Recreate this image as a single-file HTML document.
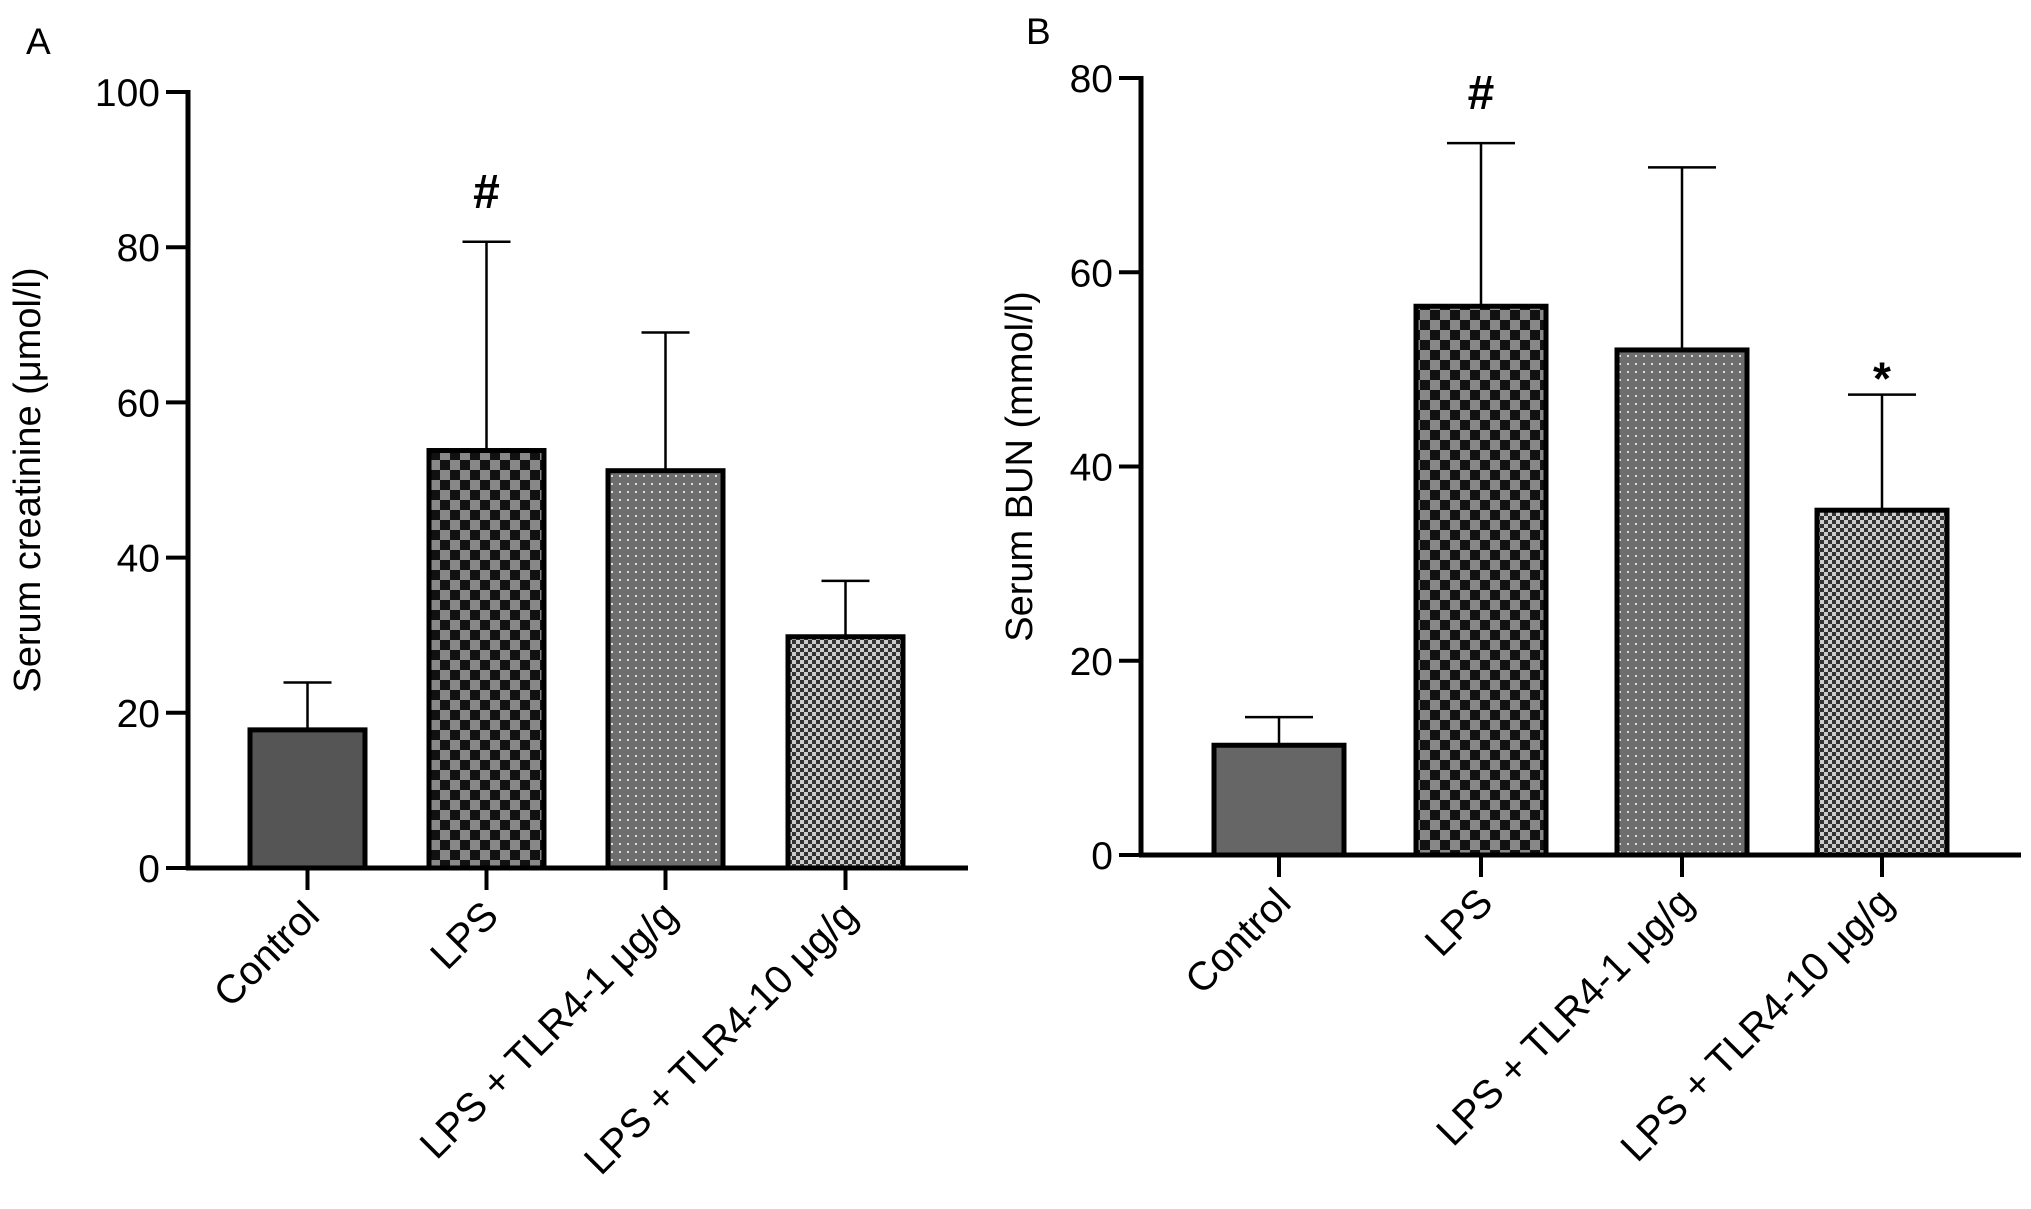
<!DOCTYPE html>
<html><head><meta charset="utf-8"><style>
html,body{margin:0;padding:0;background:#fff;}
svg{display:block;font-family:"Liberation Sans",Arial,sans-serif;}
</style></head><body>
<svg id="fig" width="2031" height="1209" viewBox="0 0 2031 1209">
<defs>
<pattern id="pCheck" width="20" height="20" patternUnits="userSpaceOnUse">
<rect width="20" height="20" fill="#888"/><rect width="10" height="10" fill="#111"/><rect x="10" y="10" width="10" height="10" fill="#111"/>
</pattern>
<pattern id="pDots" width="8" height="8" patternUnits="userSpaceOnUse">
<rect width="8" height="8" fill="#6e6e6e"/><rect x="3" y="3" width="2" height="2" fill="#ddd"/>
</pattern>
<pattern id="pFine" width="8" height="8" patternUnits="userSpaceOnUse">
<rect width="8" height="8" fill="#ccc"/><rect width="4" height="4" fill="#333"/><rect x="4" y="4" width="4" height="4" fill="#333"/>
</pattern>
</defs>
<text x="26" y="54" font-size="37">A</text>
<text x="1026" y="44" font-size="37">B</text>
<g id="gA"></g>
<g id="gB"></g>
</svg>
<script>
const categories = ["Control","LPS","LPS + TLR4-1 μg/g","LPS + TLR4-10 μg/g"];
const creatinineMeans = [17.8, 53.8, 51.2, 29.8];
const creatinineErrTop = [23.9, 80.7, 69.0, 37.0];
const creatinineTicks = [0,20,40,60,80,100];
const bunMeans = [11.3, 56.5, 52.0, 35.5];
const bunErrTop = [14.2, 73.3, 70.8, 47.4];
const bunTicks = [0,20,40,60,80];
const markersA = ["", "#", "", ""];
const markersB = ["", "#", "", "*"];

const NS="http://www.w3.org/2000/svg";
function mk(parent, tag, attrs, text){
  const e=document.createElementNS(NS,tag);
  for(const k in attrs) e.setAttribute(k,attrs[k]);
  if(text!==undefined) e.textContent=text;
  parent.appendChild(e); return e;
}
function drawPanel(g, cfg){
  const y = v => cfg.y0 - v/cfg.ymax*(cfg.y0-cfg.yTop);
  let ax=mk(g,'line',{x1:cfg.ax,y1:cfg.yTop-2,x2:cfg.ax,y2:cfg.y0+2,stroke:'#000','stroke-width':5});
  
  
  let xa=mk(g,'line',{x1:cfg.ax-2,y1:cfg.y0,x2:cfg.xEnd,y2:cfg.y0,stroke:'#000','stroke-width':5});
  
  
  cfg.ticks.forEach(t=>{
    let tl=mk(g,'line',{x1:cfg.ax-22,y1:y(t),x2:cfg.ax,y2:y(t),stroke:'#000','stroke-width':4});
    
    
    let tx=mk(g,'text',{x:cfg.ax-28,y:y(t)+14,'font-size':39,'text-anchor':'end'},String(t));
    
    
  });
  const midY=(cfg.y0+cfg.yTop)/2;
  let yt=mk(g,'text',{x:cfg.titleX,y:midY,'font-size':38,'text-anchor':'middle',transform:`rotate(-90 ${cfg.titleX} ${midY})`},cfg.title);
  
  
  categories.forEach((c,i)=>{
    const x0=cfg.barX[i], w=cfg.barW, cx=x0+w/2;
    const top=y(cfg.means[i]), et=y(cfg.err[i]);
    let el=mk(g,'line',{x1:cx,y1:top,x2:cx,y2:et,stroke:'#000','stroke-width':2.5});
    
    
    let cap=mk(g,'line',{x1:cx-cfg.cap/2,y1:et,x2:cx+cfg.cap/2,y2:et,stroke:'#000','stroke-width':2.5});
    
    
    let r=mk(g,'rect',{x:x0,y:top,width:w,height:cfg.y0-top,fill:cfg.fills[i],stroke:'#000','stroke-width':5});
    
    
    let tk=mk(g,'line',{x1:cx,y1:cfg.y0,x2:cx,y2:cfg.y0+22,stroke:'#000','stroke-width':4});
    
    
    const lx=cx+14, ly=cfg.y0+50;
    let lt=mk(g,'text',{x:lx,y:ly,'font-size':40,'text-anchor':'end',transform:`rotate(-45 ${lx} ${ly})`},c);
    
    
    if(cfg.markers[i]){
      const star=cfg.markers[i]==='*';
      let m=mk(g,'text',{x:cx,y:et-(star?0:34),'font-size':star?46:48,'font-weight':'bold','text-anchor':'middle'},cfg.markers[i]);
      
      
    }
  });
}
drawPanel(document.getElementById('gA'),{
  ax:188,xEnd:968,y0:868,yTop:92,ymax:100,ticks:creatinineTicks,titleX:40,
  title:"Serum creatinine (μmol/l)",barX:[250,429,608,788],barW:115,cap:48,
  means:creatinineMeans,err:creatinineErrTop,markers:markersA,
  fills:["#555","url(#pCheck)","url(#pDots)","url(#pFine)"]
});
drawPanel(document.getElementById('gB'),{
  ax:1141,xEnd:2021,y0:855,yTop:78,ymax:80,ticks:bunTicks,titleX:1032,
  title:"Serum BUN (mmol/l)",barX:[1214,1416,1617,1817],barW:130,cap:68,
  means:bunMeans,err:bunErrTop,markers:markersB,
  fills:["#666","url(#pCheck)","url(#pDots)","url(#pFine)"]
});
</script>
</body></html>
